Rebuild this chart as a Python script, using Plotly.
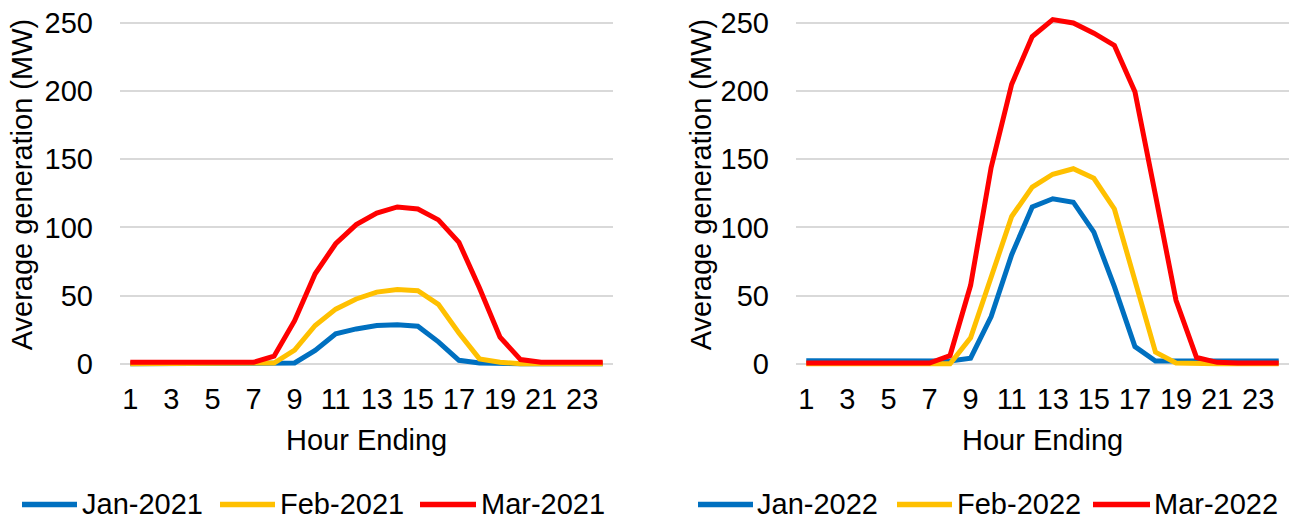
import plotly.graph_objects as go

W, H = 1297, 531
# vertical placement helpers: positions below are given as page rows,
# converted to figure pixels (the page shows the figure at ~0.967 height, 7.6 px down)
ROW_OFF, ROW_SCALE = 7.6, 0.9667

hours = list(range(1, 25))
hour_ticks = list(range(1, 24, 2))
y_ticks = [0, 50, 100, 150, 200, 250]

names_2021 = ["Jan-2021", "Feb-2021", "Mar-2021"]
names_2022 = ["Jan-2022", "Feb-2022", "Mar-2022"]
colors = ["#0070C0", "#FFC000", "#FF0000"]

jan_2021 = [0, 0, 0, 0, 0, 0, 0, 0, 0.5, 9.7, 22, 25.5, 28, 28.5, 27.5, 16,
            2.5, 0.5, 0, 0, 0, 0, 0, 0]
feb_2021 = [0, 0, 0, 0, 0, 0, 0, 0.5, 10, 28, 40, 47.5, 52.5, 54.5, 53.5, 43.5,
            22.5, 3.5, 1, 0, 0, 0, 0, 0]
mar_2021 = [1, 1, 1.2, 1, 1, 1, 1, 5.5, 31.5, 66, 88, 102, 110.5, 115, 113.5, 105.5,
            89, 55.5, 19.5, 3, 1, 1, 1, 1]

jan_2022 = [2.2, 2.2, 2, 2, 2, 2, 2, 2, 4, 34.5, 80, 115, 121, 118.5, 96.5, 56.5,
            12.5, 2, 2, 2, 2, 2, 2, 2]
feb_2022 = [0, 0, 0, 0, 0, 0, 0, 0, 19, 63.5, 108, 129.5, 139, 143, 136, 113.5,
            60, 8.5, 0.5, 0, 0, 0, 0, 0]
mar_2022 = [0.5, 0.5, 0.5, 0.5, 0.5, 0.5, 0.5, 6, 57.5, 144, 205, 240, 252.5, 250, 242.5, 233.5,
            199.5, 123.5, 46.5, 4.5, 1, 0.5, 0.5, 0.5]

FONT = "Liberation Sans, Arial, sans-serif"
FS = 29


def px(x):
    return x / W


def fig_row(row):
    return (row - ROW_OFF) / ROW_SCALE


def py(row):
    return 1 - fig_row(row) / H


def py_fig(d):
    return 1 - d / H


fig = go.Figure()

panels = [
    ("x", "y", names_2021, [jan_2021, feb_2021, mar_2021]),
    ("x2", "y2", names_2022, [jan_2022, feb_2022, mar_2022]),
]
for xa, ya, names, series in panels:
    for name, vals, col in zip(names, series, colors):
        fig.add_trace(go.Scatter(
            x=hours, y=vals, name=name, mode="lines", xaxis=xa, yaxis=ya,
            line=dict(color=col, width=5), showlegend=False,
        ))

# plot areas: left 120-613, right 796-1289 px; value 250 at figure row 16.5, 0 at page row 364.5
y_lo, y_hi = -4, 256
top_250 = 16.5
zero_row = fig_row(364.5)
k = (zero_row - top_250) / 250
ydom = [py_fig(zero_row - y_lo * k), py_fig(top_250 - (y_hi - 250) * k)]

xaxis_common = dict(
    range=[0.5, 24.5], tickmode="array", tickvals=hour_ticks,
    showgrid=False, zeroline=False, showline=False, ticks="",
    tickfont=dict(family=FONT, size=FS, color="#000000"),
    ticklabelstandoff=10, ticklabeloverflow="allow", fixedrange=True,
)
yaxis_common = dict(
    range=[y_lo, y_hi], tickmode="array", tickvals=y_ticks,
    showgrid=True, gridcolor="#D9D9D9", gridwidth=1.5,
    zeroline=False, showline=False, ticks="",
    tickfont=dict(family=FONT, size=FS, color="#000000"),
    ticklabelstandoff=26, ticklabeloverflow="allow", fixedrange=True,
)

fig.update_layout(
    width=W, height=H,
    margin=dict(l=0, r=0, t=0, b=0),
    paper_bgcolor="white", plot_bgcolor="white",
    xaxis=dict(domain=[px(120), px(613)], anchor="y", **xaxis_common),
    yaxis=dict(domain=ydom, anchor="x", **yaxis_common),
    xaxis2=dict(domain=[px(796), px(1289)], anchor="y2", **xaxis_common),
    yaxis2=dict(domain=ydom, anchor="x2", **yaxis_common),
    showlegend=False,
)

annotations = []
shapes = []
txt_font = dict(family=FONT, size=FS, color="#000000")

# axis titles
for x_title, x_center in [(22, 366.5), (701, 1042.5)]:
    annotations.append(dict(
        text="Average generation (MW)", textangle=-90, xref="paper", yref="paper",
        x=px(x_title), y=py(185), xanchor="center", yanchor="middle",
        showarrow=False, font=txt_font,
    ))
    annotations.append(dict(
        text="Hour Ending", xref="paper", yref="paper",
        x=px(x_center), y=py(441), xanchor="center", yanchor="middle",
        showarrow=False, font=txt_font,
    ))

# legend rows under each panel (figure rows, kept inside the figure)
legend_rows = [
    (names_2021, [(22, 77, 80), (220, 275, 278), (420, 476, 479)]),
    (names_2022, [(698, 753, 755), (897, 952, 955), (1093, 1150, 1152)]),
]
legend_line = 515.0
legend_text = 514.5
for names, slots in legend_rows:
    for name, col, (x0, x1, xt) in zip(names, colors, slots):
        shapes.append(dict(
            type="line", xref="paper", yref="paper",
            x0=px(x0), x1=px(x1), y0=py_fig(legend_line), y1=py_fig(legend_line),
            line=dict(color=col, width=5.5),
        ))
        annotations.append(dict(
            text=name, xref="paper", yref="paper", height=30, valign="middle",
            x=px(xt), y=py_fig(legend_text), xanchor="left", yanchor="middle",
            showarrow=False, font=txt_font,
        ))

fig.update_layout(annotations=annotations, shapes=shapes)

fig.write_html("out.html")
